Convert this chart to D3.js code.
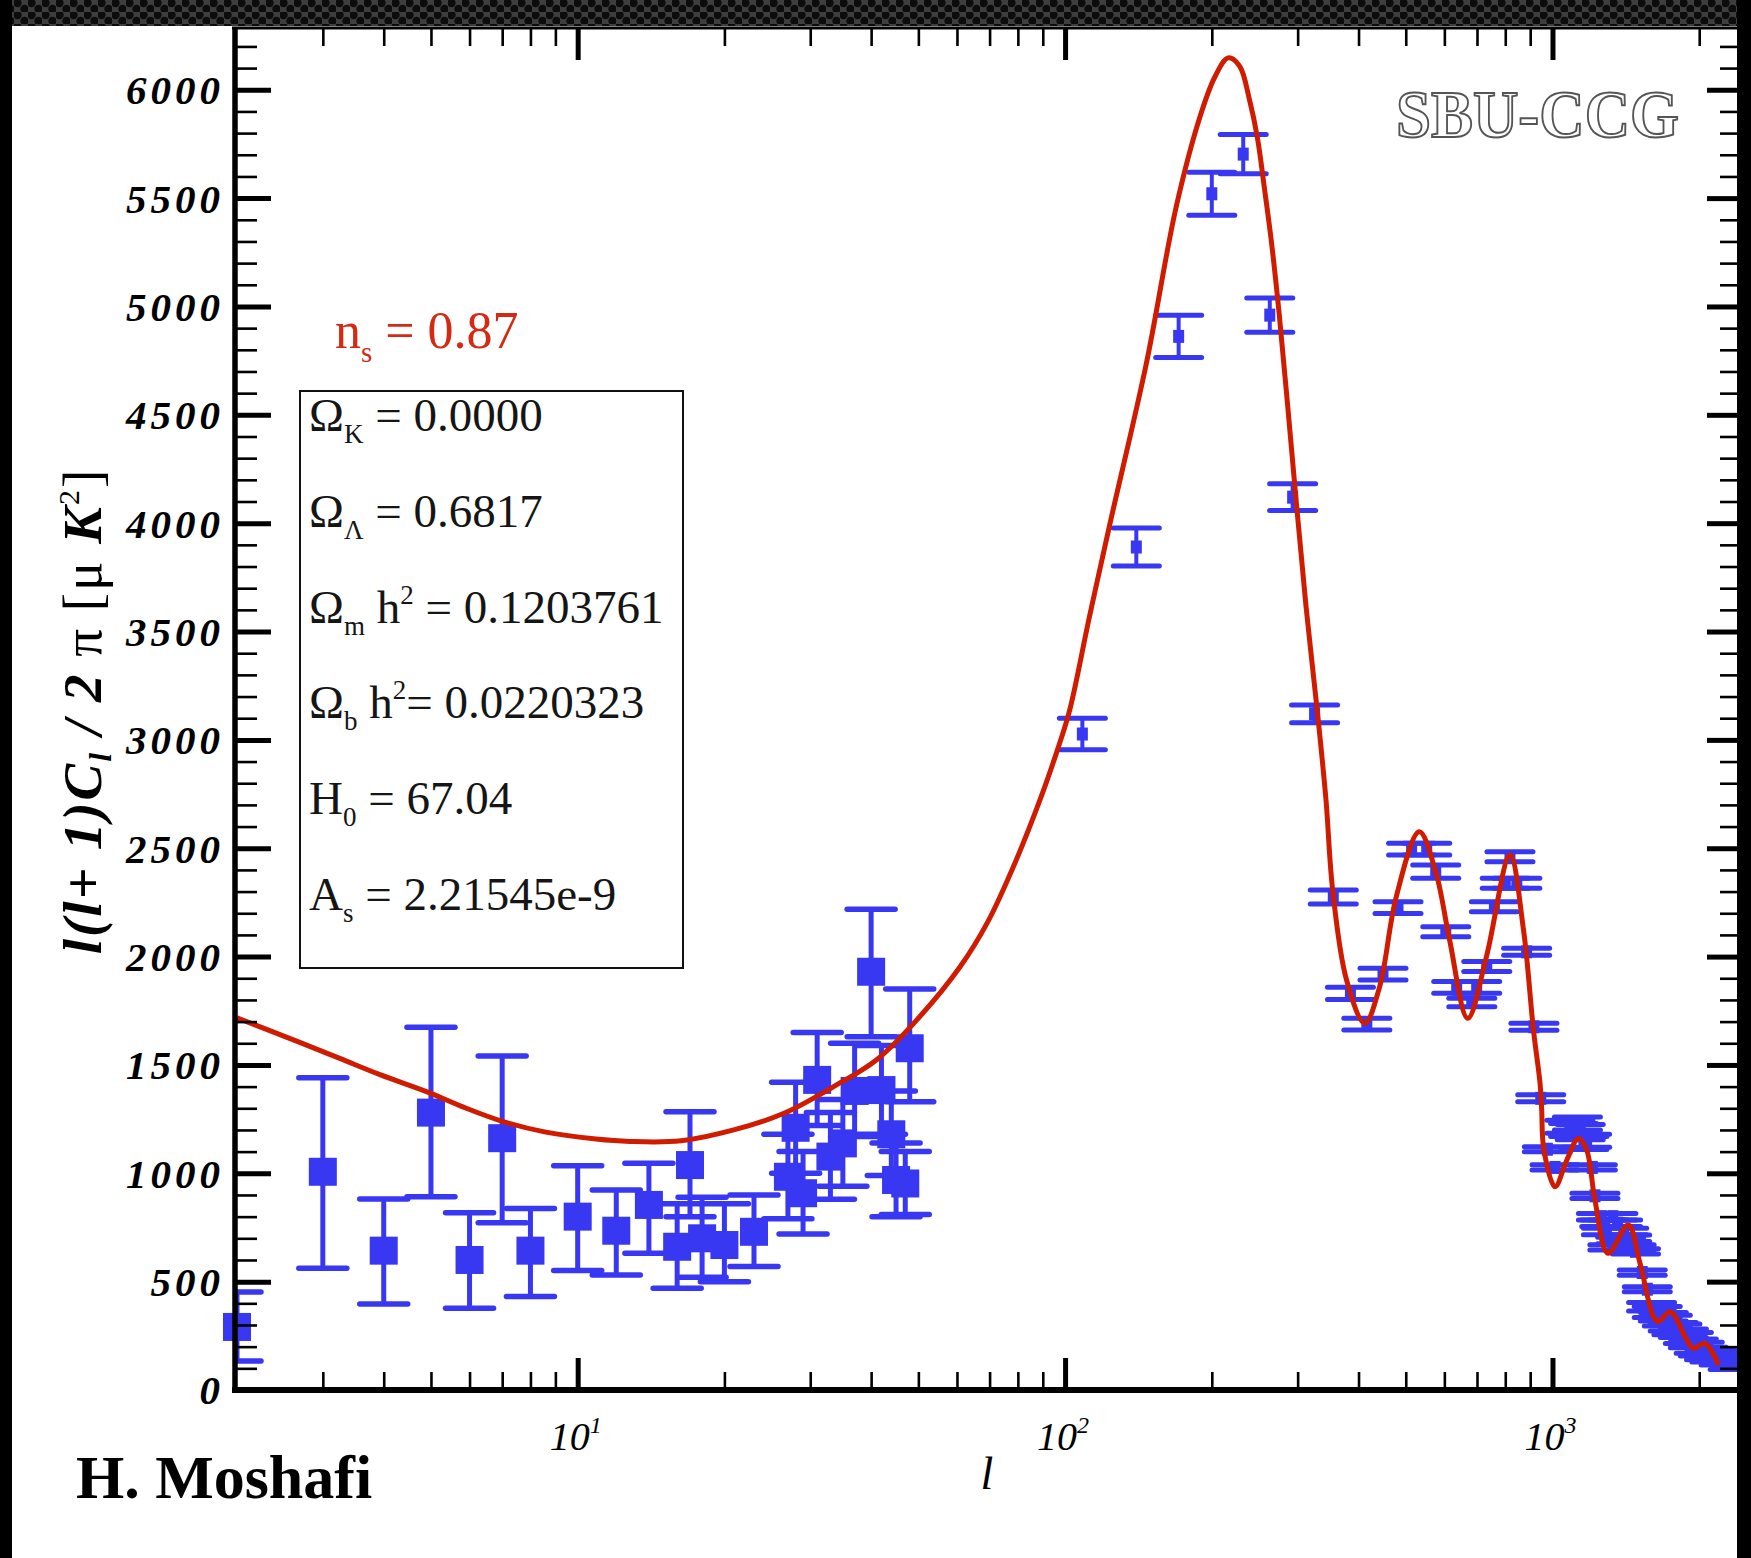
<!DOCTYPE html>
<html><head><meta charset="utf-8">
<script src="https://cdn.jsdelivr.net/npm/d3@7"></script>
<style>
html,body{margin:0;padding:0;background:#fff;}
svg{display:block;}
</style></head>
<body>
<svg id="chart" width="1751" height="1558"></svg>
<script>
// ---------- DATA ----------
// Low-multipole points (large squares): l, value, lower, upper
const lowEll = [2,3,4,5,6,7,8,10,12,14,16,17,18,20,23,27,28,29,31,33,35,37,40,42,44,45,47,48];
const lowVal = [291,1007,643,1280,600,1162,643,800,735,854,661,1038,700,669,730,984,1210,908,1431,1077,1138,1380,1930,1384,1180,969,953,1577];
const lowLo  = [134,562,397,892,377,772,431,551,531,631,470,800,520,500,570,790,1000,720,1220,880,940,1170,1630,1180,990,800,810,1330];
const lowHi  = [452,1441,881,1674,818,1541,838,1035,923,1046,860,1284,890,860,900,1180,1420,1100,1650,1280,1340,1600,2218,1590,1380,1140,1100,1850];

// Binned high-multipole points (small squares): l, value, symmetric error
const highEll = [108.5,140,171,200,232,263,293,325,355,385,416,449,482,514,552,576,604,636,683,699,733,760,800,818,845,885,916,946,976,1012,
  1085,1105,1125,1140,1160,1175,1207,1222,1260,1280,1330,1360,1290,1380,1400,1420,1330,1450,1480,1528,1565,
  1597,1640,1688,1720,1769,1800,1856,1900,1945,2000,2039,2100,2154,2250,2348];
const highVal = [3027,3890,4862,5520,5703,4960,4120,3120,2275,1830,1688,1919,2226,2496,2496,2392,2115,1858,1788,1858,1954,2230,2338,2461,2338,2022,1676,1346,1111,1027,
  1215,1200,1230,1190,1140,1150,1027,896,800,770,800,770,731,690,731,700,658,658,640,542,465,
  384,360,338,320,292,280,262,240,215,195,177,165,154,145,138];
const highErr = [73,88,97,99,90,79,62,41,32,28,27,27,27,27,27,31,23,27,20,27,23,23,23,23,23,16,16,16,12,12,
  30,30,30,35,30,30,12,12,15,15,15,15,15,15,15,15,12,12,12,12,12,
  20,25,20,25,20,25,20,25,20,25,20,25,25,30,43];

// Theory curve
const theoryEll = [2,2.65,3.25,3.93,4.98,5.83,7.0,8.6,10.9,12.8,16.3,20.9,26.5,33.5,41,49.6,60.9,69.4,79.2,89.4,96,102,112,123.4,146.8,169,188.8,203,216,228,239,248,256.6,265,275,286,298,312,330,343,354,378,412,442,478,533,577,615,670,732,818,872,914,943,950,960,1012,1070,1130,1175,1222,1300,1430,1512,1611,1648,1743,1886,1945,2055,2190];
const theoryVal = [1717,1610,1530,1455,1370,1305,1240,1190,1158,1147,1150,1200,1277,1400,1523,1707,1953,2160,2440,2740,2940,3130,3560,3990,4737,5459,5870,6060,6147,6110,5953,5780,5541,5300,4964,4550,4099,3620,3110,2723,2307,1892,1692,1861,2276,2576,2384,2077,1715,2000,2469,2123,1661,1415,1300,1110,938,1061,1161,1108,877,631,761,585,338,315,361,231,192,215,115];

// Ticks
const yTickValues = [0,500,1000,1500,2000,2500,3000,3500,4000,4500,5000,5500,6000];
const yTickLabels = ["0","500","1000","1500","2000","2500","3000","3500","4000","4500","5000","5500","6000"];
const xMajorTicks = [10,100,1000];
const xTickExponents = ["1","2","3"];

// Parameter box
const paramSymbols = ["\u03A9","\u03A9","\u03A9","\u03A9","H","A"];
const paramSubs    = ["K","\u039B","m","b","0","s"];
const paramH       = [false,false,true,true,false,false];
const paramValues  = [" = 0.0000"," = 0.6817"," = 0.1203761","= 0.0220323"," = 67.04"," = 2.21545e-9"];

// ---------- CHART ----------
const W = 1751, H = 1558;
const X0 = 237, X1 = 1737, Y0 = 1390, Y1 = 28;
const svg = d3.select("#chart");
const BLUE = "#3838f2", RED = "#cf1c00";
const SERIF = "'Liberation Serif','Times New Roman',serif";

const x = d3.scaleLog().domain([2, 2425]).range([X0, 1740]);
const y = d3.scaleLinear().domain([0, 6285]).range([Y0, Y1]);

svg.append("rect").attr("width", W).attr("height", H).attr("fill", "#fff");

// top perforated strip
const defs = svg.append("defs");
const pat = defs.append("pattern").attr("id","perf").attr("patternUnits","userSpaceOnUse")
  .attr("width",14).attr("height",12);
pat.append("rect").attr("width",14).attr("height",12).attr("fill","#3e3e3e");
pat.append("circle").attr("cx",3.5).attr("cy",3).attr("r",4.2).attr("fill","#0c0c0c");
pat.append("circle").attr("cx",10.5).attr("cy",9).attr("r",4.2).attr("fill","#0c0c0c");
svg.append("rect").attr("x",0).attr("y",0).attr("width",W).attr("height",Y1-2).attr("fill","url(#perf)");
svg.append("rect").attr("x",0).attr("y",0).attr("width",12).attr("height",H).attr("fill","#000");
svg.append("rect").attr("x",X1).attr("y",0).attr("width",W-X1).attr("height",H).attr("fill","#000");

defs.append("clipPath").attr("id","plotclip").append("rect")
  .attr("x",X0).attr("y",Y1).attr("width",X1-X0).attr("height",Y0-Y1);

// ---------- data marks ----------
const dataG = svg.append("g");
const clipG = dataG.append("g").attr("clip-path","url(#plotclip)");

// low-l
lowEll.forEach((l,i) => {
  const cx = x(l);
  clipG.append("line").attr("x1",cx).attr("x2",cx).attr("y1",y(lowLo[i])).attr("y2",y(lowHi[i]))
    .attr("stroke",BLUE).attr("stroke-width",5);
  [lowLo[i], lowHi[i]].forEach(v => {
    clipG.append("line").attr("x1",cx-24).attr("x2",cx+24).attr("y1",y(v)).attr("y2",y(v))
      .attr("stroke",BLUE).attr("stroke-width",5.5).attr("stroke-linecap","round");
  });
  dataG.append("rect").attr("x",cx-14).attr("y",y(lowVal[i])-14).attr("width",28).attr("height",28)
    .attr("fill",BLUE);
});

// high-l
highEll.forEach((l,i) => {
  const cx = x(l);
  const lo = highVal[i]-highErr[i], hi = highVal[i]+highErr[i];
  clipG.append("line").attr("x1",cx).attr("x2",cx).attr("y1",y(lo)).attr("y2",y(hi))
    .attr("stroke",BLUE).attr("stroke-width",4);
  [lo, hi].forEach(v => {
    clipG.append("line").attr("x1",cx-23).attr("x2",cx+23).attr("y1",y(v)).attr("y2",y(v))
      .attr("stroke",BLUE).attr("stroke-width",5).attr("stroke-linecap","round");
  });
  clipG.append("rect").attr("x",cx-5.5).attr("y",y(highVal[i])-6.5).attr("width",11).attr("height",13)
    .attr("fill",BLUE);
});

// theory line
const theory = theoryEll.map((l,i)=>({l, v: theoryVal[i]}));
svg.append("path").datum(theory).attr("clip-path","url(#plotclip)")
  .attr("fill","none").attr("stroke",RED).attr("stroke-width",5).attr("stroke-linejoin","round")
  .attr("d", d3.line().x(d=>x(d.l)).y(d=>y(d.v)).curve(d3.curveCatmullRom.alpha(0.5)));

// ---------- axes ----------
const yMinor = d3.range(100, 6285, 100).filter(v => v % 500 !== 0);
const xMinor = [];
[1,10,100,1000].forEach(p => { for (let m=2;m<=9;m++){ const v=m*p; if (v>2 && v<2425) xMinor.push(v);} });

function styleAxis(g, w){
  g.select(".domain").remove();
  g.selectAll(".tick line").attr("stroke","#000").attr("stroke-width",w);
}
// left
svg.append("g").attr("transform",`translate(${X0},0)`)
  .call(d3.axisLeft(y).tickValues(yMinor).tickSize(-20).tickFormat(""))
  .call(g=>styleAxis(g,2.6));
const gl = svg.append("g").attr("transform",`translate(${X0},0)`)
  .call(d3.axisLeft(y).tickValues(yTickValues).tickSize(-34).tickPadding(13)
    .tickFormat((d,i)=>yTickLabels[i]))
  .call(g=>styleAxis(g,5));
gl.selectAll(".tick text").attr("font-family",SERIF).attr("font-size",41)
  .attr("font-weight","bold").attr("font-style","italic").attr("letter-spacing","4px")
  .attr("fill","#000").attr("dy","0.34em");
// right
svg.append("g").attr("transform",`translate(${X1},0)`)
  .call(d3.axisRight(y).tickValues(yMinor).tickSize(-17).tickFormat(""))
  .call(g=>styleAxis(g,2.6));
svg.append("g").attr("transform",`translate(${X1},0)`)
  .call(d3.axisRight(y).tickValues(yTickValues).tickSize(-30).tickFormat(""))
  .call(g=>styleAxis(g,5));
// bottom
svg.append("g").attr("transform",`translate(0,${Y0})`)
  .call(d3.axisBottom(x).tickValues(xMinor).tickSize(-18).tickFormat(""))
  .call(g=>styleAxis(g,2.6));
svg.append("g").attr("transform",`translate(0,${Y0})`)
  .call(d3.axisBottom(x).tickValues(xMajorTicks).tickSize(-32).tickFormat(""))
  .call(g=>styleAxis(g,5));
// top
svg.append("g").attr("transform",`translate(0,${Y1})`)
  .call(d3.axisTop(x).tickValues(xMinor).tickSize(-18).tickFormat(""))
  .call(g=>styleAxis(g,2.6));
svg.append("g").attr("transform",`translate(0,${Y1})`)
  .call(d3.axisTop(x).tickValues(xMajorTicks).tickSize(-32).tickFormat(""))
  .call(g=>styleAxis(g,5));

// frame lines
svg.append("line").attr("x1",235).attr("x2",235).attr("y1",Y1).attr("y2",Y0+3).attr("stroke","#000").attr("stroke-width",5.5);
svg.append("line").attr("x1",232).attr("x2",X1).attr("y1",Y0).attr("y2",Y0).attr("stroke","#000").attr("stroke-width",6);
svg.append("line").attr("x1",232).attr("x2",X1).attr("y1",Y1).attr("y2",Y1).attr("stroke","#000").attr("stroke-width",3);

// x tick labels 10^n
xMajorTicks.forEach((t,i) => {
  const tx = svg.append("text").attr("x",x(t)-2).attr("y",1450).attr("text-anchor","middle")
    .attr("font-family",SERIF).attr("font-style","italic").attr("font-size",40).attr("fill","#000");
  tx.append("tspan").text("10");
  tx.append("tspan").attr("font-size",24).attr("dy",-17).text(xTickExponents[i]);
});

// axis titles
svg.append("text").attr("x",987).attr("y",1489).attr("text-anchor","middle")
  .attr("font-family",SERIF).attr("font-style","italic").attr("font-size",46).text("l");

const yt = svg.append("text").attr("transform","translate(101,711) rotate(-90)")
  .attr("text-anchor","middle").attr("font-family",SERIF).attr("font-size",55)
  .attr("letter-spacing","2px").attr("fill","#000");
yt.append("tspan").attr("font-weight","bold").attr("font-style","italic").text("l(l+ 1)C");
yt.append("tspan").attr("font-weight","bold").attr("font-style","italic").attr("font-size",32).attr("dy",10).text("l");
yt.append("tspan").attr("font-weight","bold").attr("font-style","italic").attr("dy",-10).text(" / 2 ");
yt.append("tspan").text("\u03C0 [\u03BC ");
yt.append("tspan").attr("font-weight","bold").attr("font-style","italic").text("K");
yt.append("tspan").attr("font-size",30).attr("dy",-22).text("2");
yt.append("tspan").attr("dy",22).text("]");

// n_s label
const ns = svg.append("text").attr("x",335).attr("y",348).attr("font-family",SERIF)
  .attr("font-size",52).attr("fill","#d42a14");
ns.append("tspan").text("n");
ns.append("tspan").attr("font-size",29).attr("dy",14).text("s");
ns.append("tspan").attr("dy",-14).text(" = 0.87");

// parameter box
svg.append("rect").attr("x",300).attr("y",391).attr("width",383).attr("height",577)
  .attr("fill","none").attr("stroke","#111").attr("stroke-width",2);
paramSymbols.forEach((s,i) => {
  const t = svg.append("text").attr("x",309).attr("y",431 + i*95.8).attr("font-family",SERIF)
    .attr("font-size",47).attr("fill","#151515");
  t.append("tspan").text(s);
  t.append("tspan").attr("font-size",27).attr("dy",12).text(paramSubs[i]);
  if (paramH[i]) {
    t.append("tspan").attr("dy",-12).text(" h");
    t.append("tspan").attr("font-size",27).attr("dy",-19).text("2");
    t.append("tspan").attr("dy",19).text(paramValues[i]);
  } else {
    t.append("tspan").attr("dy",-12).text(paramValues[i]);
  }
});

// watermark & author
svg.append("text").attr("x",1396).attr("y",137).attr("font-family",SERIF).attr("font-size",68)
  .attr("font-weight","bold").attr("fill","#fff").attr("stroke","#555").attr("stroke-width",2)
  .attr("textLength",283).attr("lengthAdjust","spacingAndGlyphs").text("SBU-CCG");
svg.append("text").attr("x",76).attr("y",1498).attr("font-family",SERIF).attr("font-size",62)
  .attr("font-weight","bold").attr("fill","#000").text("H. Moshafi");
</script>
</body></html>
